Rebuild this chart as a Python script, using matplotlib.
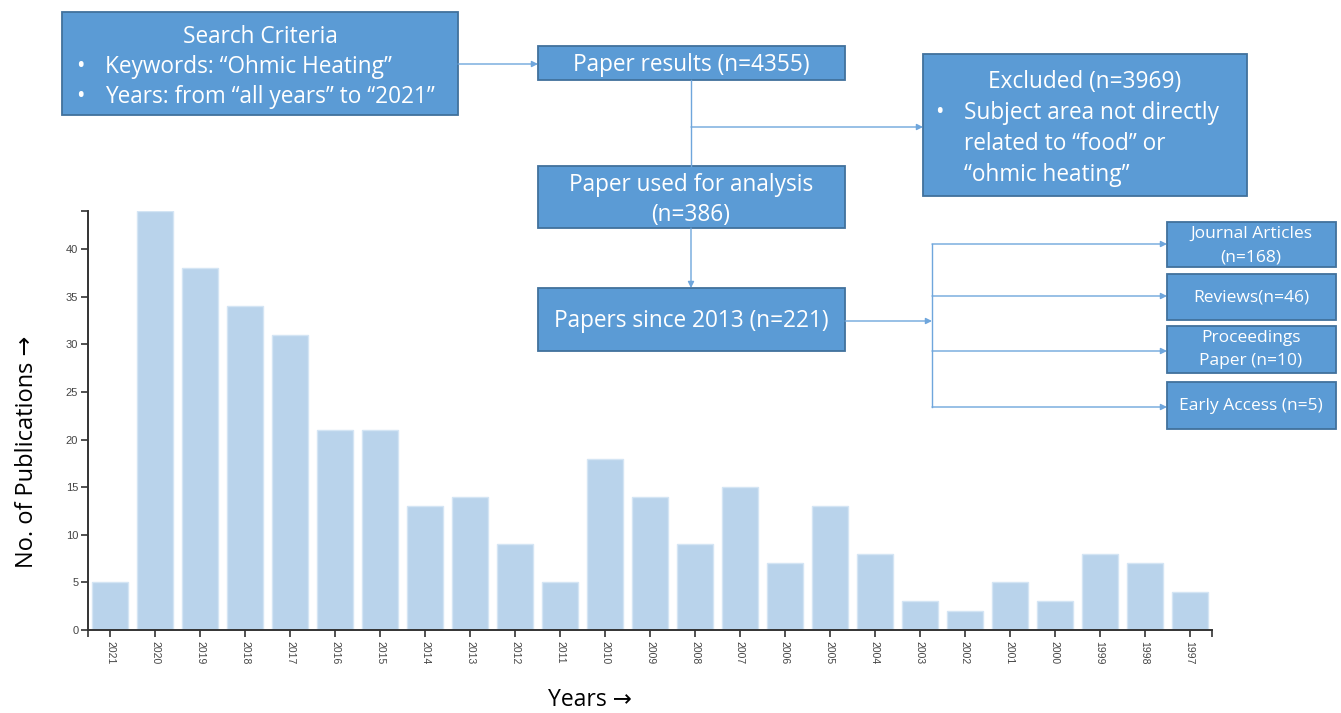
import matplotlib
matplotlib.use("Agg")
import matplotlib.pyplot as plt
from matplotlib.patches import Rectangle

# publications per year
years = ['2021', '2020', '2019', '2018', '2017', '2016', '2015', '2014', '2013',
         '2012', '2011', '2010', '2009', '2008', '2007', '2006', '2005', '2004',
         '2003', '2002', '2001', '2000', '1999', '1998', '1997']
counts = [5, 44, 38, 34, 31, 21, 21, 13, 14, 9, 5, 18, 14, 9, 15, 7, 13, 8,
          3, 2, 5, 3, 8, 7, 4]

W, H = 1341, 713
fig = plt.figure(figsize=(W / 100, H / 100), dpi=100)

# ---- bar chart ----
ax = fig.add_axes([88 / W, 1 - 630 / H, 1124 / W, 419 / H])
x = list(range(len(years)))
ax.bar(x, counts, width=0.8, color='#b9d3eb', edgecolor='#d4e5f4', linewidth=1)
ax.set_xlim(-0.5, len(years) - 0.5)
ax.set_ylim(0, max(counts))
ax.set_xticks(x)
ax.set_xticklabels(years, rotation=-90, family='Liberation Sans', fontsize=7.5, color='#444444')
ax.set_yticks(range(0, 41, 5))
ax.set_yticklabels([str(v) for v in range(0, 41, 5)], family='Liberation Sans',
                   fontsize=8, color='#444444')
# d3 style outer ticks at the axis ends
ax.set_xticks([-0.5, len(years) - 0.5], minor=True)
ax.set_yticks([max(counts)], minor=True)
ax.tick_params(which='both', length=5, width=1.2, color='#333333')
ax.tick_params(axis='x', pad=3)
ax.tick_params(axis='y', pad=2)
for s in ['top', 'right']:
    ax.spines[s].set_visible(False)
for s in ['left', 'bottom']:
    ax.spines[s].set_color('#333333')
    ax.spines[s].set_linewidth(1.4)

fig.text(27 / W, 1 - 452 / H, 'No. of Publications →', rotation=90, ha='center', va='center',
         fontsize=17, family=['Open Sans', 'DejaVu Sans'], color='black')
fig.text(590 / W, 1 - 700 / H, 'Years →', ha='center', va='center',
         fontsize=16.5, family=['Open Sans', 'DejaVu Sans'], color='black')

# ---- flow chart overlay, in pixel coordinates ----
fc = fig.add_axes([0, 0, 1, 1], zorder=5)
fc.set_xlim(0, W)
fc.set_ylim(H, 0)
fc.axis('off')
fc.patch.set_alpha(0)

box_fill = '#5b9bd5'
box_edge = '#41719c'
line_col = '#6fa6dc'
font = ['Open Sans', 'DejaVu Sans']
big = 16.3
small = 12.5


def box(x0, y0, x1, y1):
    fc.add_patch(Rectangle((x0, y0), x1 - x0, y1 - y0, facecolor=box_fill,
                           edgecolor=box_edge, linewidth=1.3))


def txt(xp, yp, s, size=big, ha='center'):
    # small nudge down: Open Sans sits a bit high with va='center'
    fc.text(xp, yp + 3, s, color='white', fontsize=size, ha=ha, va='center', family=font)


def arrow(x0, y0, x1, y1):
    fc.annotate('', xy=(x1, y1), xytext=(x0, y0),
                arrowprops=dict(arrowstyle='-|>', color=line_col, lw=1,
                                mutation_scale=9, shrinkA=0, shrinkB=0))


def line(xs, ys):
    fc.plot(xs, ys, color=line_col, lw=1)


# search criteria
box(62, 12, 458, 115)
txt(260, 34, 'Search Criteria')
txt(76, 64, '•', ha='left')
txt(105, 64, 'Keywords: “Ohmic Heating”', ha='left')
txt(76, 94, '•', ha='left')
txt(105, 94, 'Years: from “all years” to “2021”', ha='left')
arrow(458, 64, 538, 64)

# paper results
box(538, 46, 845, 80)
txt(691, 62, 'Paper results (n=4355)')
line([691, 691], [80, 166])
arrow(691, 127, 923, 127)

# excluded
box(923, 54, 1247, 196)
txt(1085, 79, 'Excluded (n=3969)')
txt(935, 110, '•', ha='left')
txt(964, 110, 'Subject area not directly', ha='left')
txt(964, 141, 'related to “food” or', ha='left')
txt(964, 172, '“ohmic heating”', ha='left')

# used for analysis
box(538, 166, 845, 228)
txt(691, 182, 'Paper used for analysis')
txt(691, 212, '(n=386)')
arrow(691, 228, 691, 288)

# since 2013
box(538, 288, 845, 351)
txt(691, 318, 'Papers since 2013 (n=221)')
arrow(845, 321, 932, 321)
line([932, 932], [244, 407])

# breakdown
right = [(222, 267, ['Journal Articles', '(n=168)']),
         (274, 320, ['Reviews(n=46)']),
         (326, 373, ['Proceedings', 'Paper (n=10)']),
         (382, 429, ['Early Access (n=5)'])]
arrow_y = [244, 296, 351, 407]
for (y0, y1, lines), ya in zip(right, arrow_y):
    arrow(932, ya, 1167, ya)
    box(1167, y0, 1336, y1)
    if len(lines) == 1:
        txt(1251, (y0 + y1) / 2 - 2, lines[0], size=small)
    else:
        txt(1251, y0 + 9, lines[0], size=small)
        txt(1251, y0 + 32, lines[1], size=small)

fig.savefig('out.png', dpi=100)
